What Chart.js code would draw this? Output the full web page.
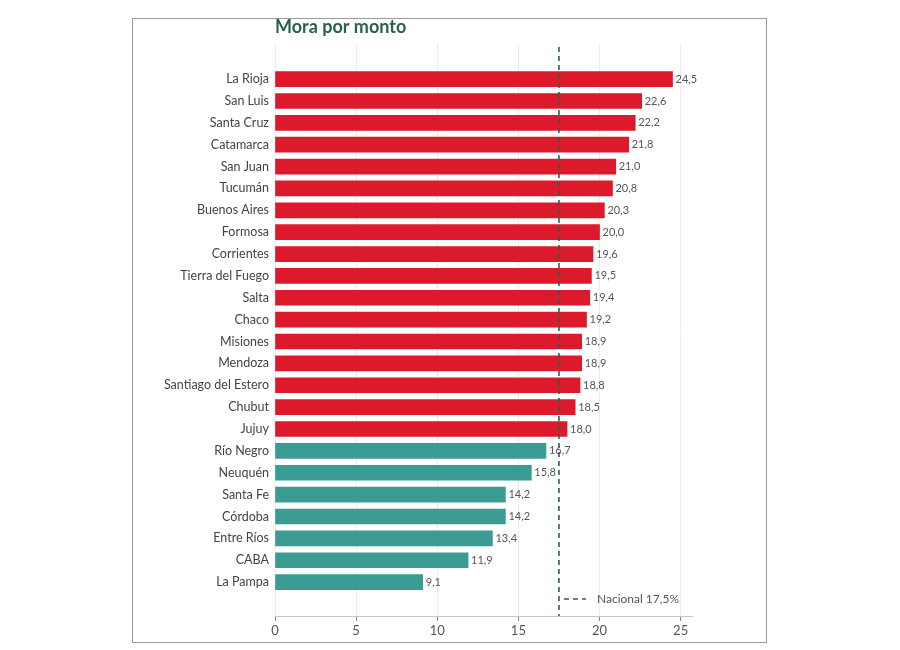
<!DOCTYPE html>
<html>
<head>
<meta charset="utf-8">
<script src="https://cdn.jsdelivr.net/npm/chart.js@4"></script>
<style>
  html, body { margin: 0; padding: 0; background: #fff; }
  #frame { position: absolute; left: 132px; top: 18px; width: 635px; height: 625px; border: 1px solid #9a9a9a; box-sizing: border-box; pointer-events: none; }
  canvas { position: absolute; left: 0; top: 0; }
</style>
</head>
<body>
<canvas id="c" width="900" height="650"></canvas>
<div id="frame"></div>
<script>
const provinces = ["La Rioja","San Luis","Santa Cruz","Catamarca","San Juan","Tucumán","Buenos Aires","Formosa","Corrientes","Tierra del Fuego","Salta","Chaco","Misiones","Mendoza","Santiago del Estero","Chubut","Jujuy","Río Negro","Neuquén","Santa Fe","Córdoba","Entre Ríos","CABA","La Pampa"];
const moraValues = [24.5,22.6,22.2,21.8,21.0,20.8,20.3,20.0,19.6,19.5,19.4,19.2,18.9,18.9,18.8,18.5,18.0,16.7,15.8,14.2,14.2,13.4,11.9,9.1];
const nationalValue = 17.5;
const nationalLabel = "Nacional 17,5%";
const chartTitle = "Mora por monto";
const xTicks = [0,5,10,15,20,25];

const RED = "#dc1a2c";
const TEAL = "#3a9c93";
const GREEN_DARK = "#2a5f52";
const FONT = "Lato, 'Open Sans', sans-serif";

const fmt = v => v.toFixed(1).replace('.', ',');

const overlay = {
  id: 'overlay',
  afterDatasetsDraw(chart) {
    const ctx = chart.ctx;
    const xs = chart.scales.x;
    const area = chart.chartArea;
    const meta = chart.getDatasetMeta(0);
    ctx.save();
    ctx.font = "11px " + FONT;
    ctx.fillStyle = "#555";
    ctx.textAlign = "left";
    ctx.textBaseline = "middle";
    meta.data.forEach((bar, i) => {
      ctx.fillText(fmt(moraValues[i]), bar.x + 3, bar.y);
    });
    const nx = xs.getPixelForValue(nationalValue);
    ctx.strokeStyle = GREEN_DARK;
    ctx.lineWidth = 1.6;
    ctx.setLineDash([5, 4]);
    ctx.beginPath();
    ctx.moveTo(nx, area.top + 4);
    ctx.lineTo(nx, area.bottom);
    ctx.stroke();
    const ly = 599;
    ctx.beginPath();
    ctx.moveTo(nx + 5, ly);
    ctx.lineTo(nx + 27, ly);
    ctx.stroke();
    ctx.setLineDash([]);
    ctx.fillStyle = "#555";
    ctx.font = "12px " + FONT;
    ctx.fillText(nationalLabel, nx + 38, ly);
    ctx.fillStyle = GREEN_DARK;
    ctx.font = "bold 18px " + FONT;
    ctx.textBaseline = "middle";
    ctx.fillText(chartTitle, area.left, 27);
    ctx.restore();
  }
};

new Chart(document.getElementById('c'), {
  type: 'bar',
  data: {
    datasets: [{
      data: moraValues.map((v, i) => ({ x: v, y: i })),
      backgroundColor: moraValues.map(v => v > nationalValue ? RED : TEAL),
      borderWidth: 0,
      barThickness: 15
    }]
  },
  options: {
    indexAxis: 'y',
    responsive: false,
    animation: false,
    events: [],
    layout: { padding: { top: 43, right: 208, bottom: 0, left: 0 } },
    plugins: { legend: { display: false }, tooltip: { enabled: false }, title: { display: false } },
    scales: {
      x: {
        type: 'linear',
        min: 0,
        max: 25.7,
        afterBuildTicks: s => { s.ticks = xTicks.map(v => ({ value: v })); },
        afterFit: s => { s.height = 34; },
        grid: { color: '#ececec', lineWidth: 1, drawTicks: true, tickLength: 5, tickColor: '#888' },
        border: { display: true, color: '#c8c8c8', width: 1 },
        ticks: { color: '#555', font: { family: FONT, size: 13 }, padding: 2 }
      },
      y: {
        type: 'linear',
        reverse: true,
        offset: false,
        min: -1.65,
        max: 24.55,
        afterBuildTicks: s => { s.ticks = provinces.map((_, i) => ({ value: i })); },
        afterFit: s => { s.width = 275; },
        grid: { display: false, drawTicks: false },
        border: { display: false },
        ticks: {
          autoSkip: false,
          color: '#444',
          font: { family: FONT, size: 12.5 },
          padding: 6,
          callback: v => provinces[v] ?? ''
        }
      }
    }
  },
  plugins: [overlay]
});
</script>
</body>
</html>
